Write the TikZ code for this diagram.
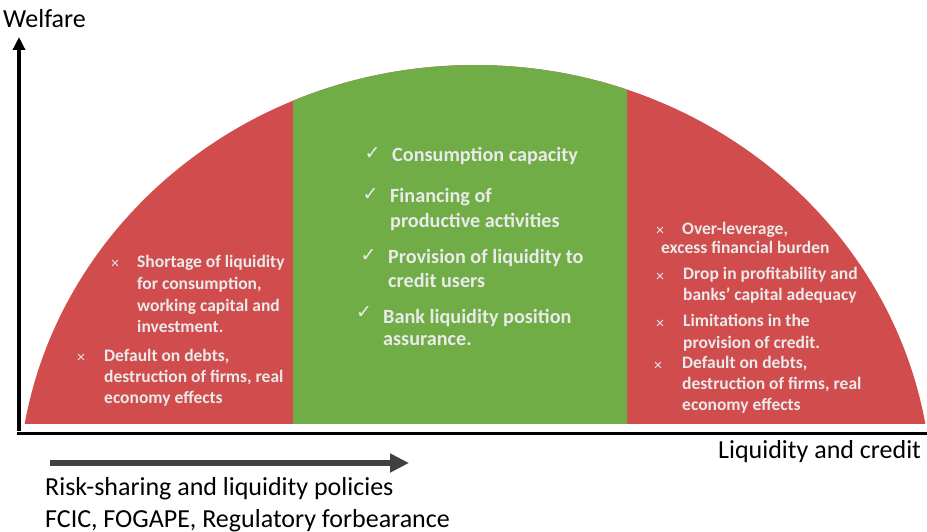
\documentclass[tikz,border=0pt]{standalone}
\usepackage{fontspec}
\setmainfont{Carlito}
\newfontfamily\symfont{DejaVu Sans}
\usetikzlibrary{arrows.meta}
\definecolor{domered}{RGB}{209,77,77}
\definecolor{domegreen}{RGB}{112,173,71}
\definecolor{itemtext}{RGB}{234,234,234}
\definecolor{policyarrow}{RGB}{64,64,64}
\begin{document}
\begin{tikzpicture}[x=1pt,y=-1pt,
  side/.style={anchor=base west, inner sep=0pt, text=itemtext, font=\fontsize{17.5}{21}\selectfont\bfseries},
  mid/.style={anchor=base west, inner sep=0pt, text=itemtext, font=\fontsize{20.2}{24}\selectfont\bfseries},
  crossmark/.style={inner sep=0pt, text=itemtext, font=\fontsize{16}{16}\selectfont},
  tickmark/.style={inner sep=0pt, text=itemtext, font=\fontsize{19}{19}\selectfont\symfont},
  axislabel/.style={anchor=base west, inner sep=0pt, font=\fontsize{26}{31}\selectfont},
  axisline/.style={line width=3.5pt, black}]

\useasboundingbox (0,0) rectangle (927,532);

% dome
\begin{scope}
  \clip (0,0) rectangle (927,423);
  \fill[domered] (475,498) ellipse [x radius=457pt, y radius=433pt];
  \clip (293,0) rectangle (627,423);
  \fill[domegreen] (475,498) ellipse [x radius=457pt, y radius=433pt];
\end{scope}

% axes
\coordinate (yfoot) at (19,431);
\coordinate (ytip) at (19,37);
\draw[axisline, -{Triangle[length=13pt,width=12pt]}] (yfoot) -- (ytip);
\coordinate (xleft) at (17,433.5);
\coordinate (xright) at (927,433.5);
\draw[axisline] (xleft) -- (xright);

\node[axislabel] (welfare) at (3,28) {Welfare};
\node[axislabel] (liqcredit) at (718,458) {Liquidity and credit};

% policy arrow
\coordinate (pstart) at (50,463);
\coordinate (pend) at (409,463);
\draw[policyarrow, line width=6pt, -{Triangle[length=19pt,width=18pt]}] (pstart) -- (pend);
\node[axislabel] (pol1) at (45,495) {Risk-sharing and liquidity policies};
\node[axislabel] (pol2) at (45,527) {FCIC, FOGAPE, Regulatory forbearance};

% left
\node[crossmark] (lx1) at (115,264.5) {×};
\node[side] (l1a) at (137,267) {Shortage of liquidity};
\node[side] (l1b) at (137,289) {for consumption,};
\node[side] (l1c) at (137,311) {working capital and};
\node[side] (l1d) at (137,332) {investment.};
\node[crossmark] (lx2) at (81,358.5) {×};
\node[side] (l2a) at (104,361) {Default on debts,};
\node[side] (l2b) at (104,382) {destruction of firms, real};
\node[side] (l2c) at (104,403) {economy effects};

% middle
\node[tickmark] (mt1) at (372.5,154) {✓};
\node[mid] (m1a) at (392,162) {Consumption capacity};
\node[tickmark] (mt2) at (370.5,195) {✓};
\node[mid] (m2a) at (390,203) {Financing of};
\node[mid] (m2b) at (390,227) {productive activities};
\node[tickmark] (mt3) at (368.5,256) {✓};
\node[mid] (m3a) at (388,263) {Provision of liquidity to};
\node[mid] (m3b) at (388,287) {credit users};
\node[tickmark] (mt4) at (364,313) {✓};
\node[mid] (m4a) at (383,323) {Bank liquidity position};
\node[mid] (m4b) at (383,345) {assurance.};

% right
\node[crossmark] (rx1) at (660,231.5) {×};
\node[side] (r1a) at (682,234) {Over-leverage,};
\node[side] (r1b) at (661,253) {excess financial burden};
\node[crossmark] (rx2) at (660,277.5) {×};
\node[side] (r2a) at (683,279) {Drop in profitability and};
\node[side] (r2b) at (683,300) {banks’ capital adequacy};
\node[crossmark] (rx3) at (660,324) {×};
\node[side] (r3a) at (683,326) {Limitations in the};
\node[side] (r3b) at (683,348) {provision of credit.};
\node[crossmark] (rx4) at (658,366) {×};
\node[side] (r4a) at (682,368) {Default on debts,};
\node[side] (r4b) at (682,389) {destruction of firms, real};
\node[side] (r4c) at (682,410) {economy effects};
\end{tikzpicture}
\end{document}
